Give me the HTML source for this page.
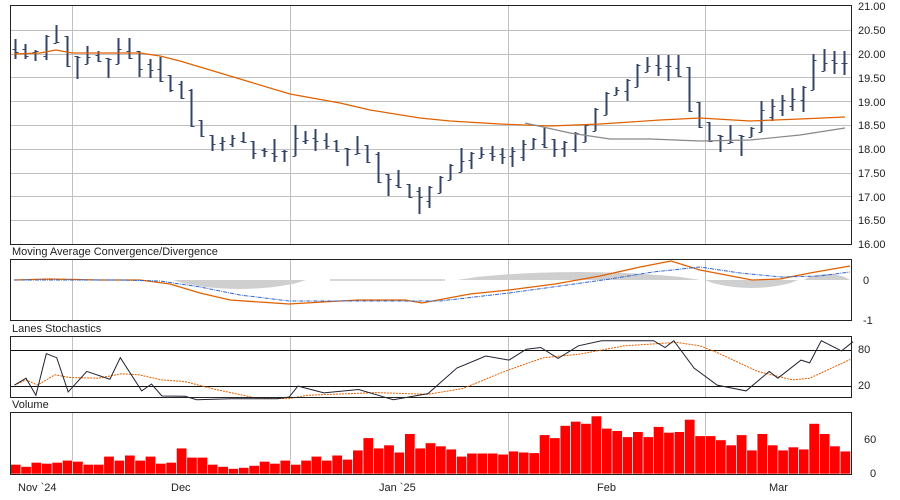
<!DOCTYPE html>
<html><head><meta charset="utf-8"><style>
html,body{margin:0;padding:0;background:#fff;width:900px;height:500px;overflow:hidden}
svg{display:block;font-family:"Liberation Sans",sans-serif;font-size:11px}
</style></head><body>
<svg id="s" width="900" height="500" xmlns="http://www.w3.org/2000/svg">
<g id="grid" stroke="#c0c0c0" stroke-width="1"></g>
<g id="content"></g>
<g fill="none" stroke="#222" stroke-width="1">
<rect x="10.5" y="5.5" width="841" height="239"/>
<rect x="10.5" y="259.5" width="841" height="61"/>
<rect x="10.5" y="336.5" width="841" height="61"/>
<rect x="10.5" y="412.5" width="841" height="62"/>
</g>
<g fill="#222" id="labels">
<text x="858" y="10">21.00</text><text x="858" y="34">20.50</text><text x="858" y="58">20.00</text>
<text x="858" y="82">19.50</text><text x="858" y="106">19.00</text><text x="858" y="129">18.50</text>
<text x="858" y="153">18.00</text><text x="858" y="177">17.50</text><text x="858" y="201">17.00</text>
<text x="858" y="224">16.50</text><text x="858" y="248">16.00</text>
<text x="12" y="255">Moving Average Convergence/Divergence</text>
<text x="863" y="284">0</text><text x="863" y="324">-1</text>
<text x="12" y="332">Lanes Stochastics</text>
<text x="858" y="353">80</text><text x="858" y="389">20</text>
<text x="12" y="408">Volume</text>
<text x="864" y="443">60</text><text x="870" y="477">0</text>
<text x="18" y="491">Nov `24</text><text x="171" y="491">Dec</text><text x="379" y="491">Jan `25</text>
<text x="597" y="491">Feb</text><text x="769" y="491">Mar</text>
</g>
</svg>
<script>
const NS="http://www.w3.org/2000/svg";
const g=document.getElementById('grid'),c=document.getElementById('content');
function el(p,t,a){const e=document.createElementNS(NS,t);for(const k in a)e.setAttribute(k,a[k]);p.appendChild(e);return e;}
// grid
[72,290,508,705].forEach(x=>{[[5,245],[259,321],[336,398],[412,475]].forEach(r=>el(g,'line',{x1:x+.5,x2:x+.5,y1:r[0],y2:r[1]}));});
for(let i=1;i<10;i++){const y=Math.round(6+i*23.8)+.5;el(g,'line',{x1:10,x2:851,y1:y,y2:y});}
// price bars
const H=[39,44,50,35,25,36,56,46,51,58,38,38,51,59,57,75,81,89,120,135,137,135,132,141,148,139,150,125,131,129,133,140,148,136,145,152,174,170,184,187,186,176,164,148,152,147,146,148,147,140,138,128,139,141,132,124,108,92,87,79,64,57,55,55,55,67,102,122,135,125,135,127,101,99,95,88,86,54,49,51,51];
const L=[59,59,61,60,43,67,79,64,62,78,64,59,77,78,82,92,99,127,137,151,151,147,143,159,157,162,162,156,144,151,149,152,166,154,163,183,196,188,198,214,208,193,180,172,169,158,161,164,167,161,149,148,157,157,152,142,131,115,95,101,87,72,76,81,77,112,128,142,152,143,156,137,132,121,116,111,112,90,71,74,75];
const n=H.length,X=i=>14.7+i*10.37;
for(let i=0;i<n;i++){const x=Math.round(X(i))+.5;
 const o=i?Math.max(H[i],Math.min(L[i],(H[i-1]+L[i-1])/2)):(H[i]+L[i])/2;
 const cl=i<n-1?Math.max(H[i]+1,Math.min(L[i]-1,(H[i+1]+L[i+1])/2)):(H[i]+L[i])/2;
 el(c,'line',{x1:x,x2:x,y1:H[i],y2:L[i],stroke:'#334466','stroke-width':2});
 el(c,'line',{x1:x-3,x2:x,y1:Math.round(o)+.5,y2:Math.round(o)+.5,stroke:'#334466','stroke-width':1});
 el(c,'line',{x1:x,x2:x+3,y1:Math.round(cl)+.5,y2:Math.round(cl)+.5,stroke:'#334466','stroke-width':1});
}
function pl(pts,col,w,dash){el(c,'polyline',{points:pts.map(p=>p.join(',')).join(' '),fill:'none',stroke:col,'stroke-width':w||1,'stroke-dasharray':dash||''});}
pl([[14,54],[40,53],[56,50],[72,53],[100,53],[140,53],[160,56],[180,61],[200,67],[250,82],[290,94],[340,103],[370,110],[420,118],[450,121],[500,124],[550,126],[600,124],[660,120],[700,118],[750,121],[800,119],[845,117]],'#e06000',1.2);
pl([[525,123],[570,133],[610,139],[650,139],[700,141],[750,140],[800,135],[845,128]],'#888',1.2);
// MACD histogram
const hist=[[173,306,289,'n'],[457,700,272,'p'],[705,798,288,'n'],[804,850,274,'p']];
hist.forEach(h=>{const [a,b,pk,t]=h;let d='M'+a+',280';const N=12;for(let k=0;k<=N;k++){const x=a+(b-a)*k/N;const f=Math.sin(Math.PI*k/N);d+=' L'+x.toFixed(1)+','+(280+(pk-280)*Math.pow(f,0.7)).toFixed(1);}d+=' L'+b+',280Z';el(c,'path',{d:d,fill:'#cfcfcf'});});
el(c,'rect',{x:330,y:279,width:115,height:2,fill:'#d8d8d8'});
const zx=x=>x/1.729,zy=y=>240+y/2.93;
pl([[14,280],[50,279],[100,280],[140,280],[170,284],[200,293],[230,300],[289,304],[340,301],[359,300],[405,300],[422,303],[470,294],[509,290],[555,284],[600,276],[640,267],[671,261],[700,270],[752,280],[780,279],[810,273],[850,266]],'#e06000',1.3);
pl([[14,280],[60,280],[120,280],[160,281],[200,287],[240,295],[289,301],[360,301],[440,301],[509,293],[560,286],[610,279],[653,272],[700,267],[740,273],[781,277],[820,276],[850,272]],'#3366cc',1,'4,1,1,1');
// stoch lines
el(c,'line',{x1:10,x2:851,y1:350.5,y2:350.5,stroke:'#111'});
el(c,'line',{x1:10,x2:851,y1:386.5,y2:386.5,stroke:'#111'});
const K=[[25,425],[45,405],[62,455],[80,333],[98,345],[118,445],[150,385],[190,408],[208,345],[245,442],[262,422],[280,457],[320,458],[340,468],[400,465],[480,465],[500,460],[515,428],[560,448],[620,438],[680,468],[740,450],[790,375],[840,340],[880,352],[910,320],[935,315],[965,347],[1000,310],[1040,295],[1090,295],[1130,295],[1150,315],[1165,295],[1200,375],[1240,425],[1290,442],[1330,385],[1345,405],[1385,352],[1400,360],[1420,295],[1455,325],[1475,298]];
const D=[[25,425],[45,410],[65,425],[95,395],[120,403],[170,405],[210,392],[240,395],[280,410],[320,415],[370,437],[440,462],[500,465],[530,455],[650,447],[740,452],[800,435],[880,380],[940,345],[1000,335],[1080,310],[1170,300],[1210,310],[1240,330],[1310,385],[1370,410],[1400,405],[1470,350]];
pl(D.map(p=>[zx(p[0]).toFixed(1),zy(p[1]).toFixed(1)]),'#e06000',1,'2,1');
pl(K.map(p=>[zx(p[0]).toFixed(1),zy(p[1]).toFixed(1)]),'#223',1);
// volume
const V=[672,678,666,669,666,660,663,672,672,648,660,645,660,648,669,666,624,651,651,672,678,684,681,675,663,669,660,672,660,648,660,645,657,630,594,624,615,636,582,624,609,618,627,648,639,639,639,642,633,636,638,585,594,558,546,552,530,566,573,591,576,591,561,578,576,540,588,588,600,615,585,630,582,615,630,621,627,552,582,618,633];
for(let i=0;i<V.length;i++){const h=(700-V[i])/2.93;const x=10.5+i*10.37;el(c,'rect',{x:x.toFixed(1),y:(474-h).toFixed(1),width:10.4,height:h.toFixed(1),fill:'#ff0000',stroke:'#fff','stroke-width':0.6});}
</script>
</body></html>
